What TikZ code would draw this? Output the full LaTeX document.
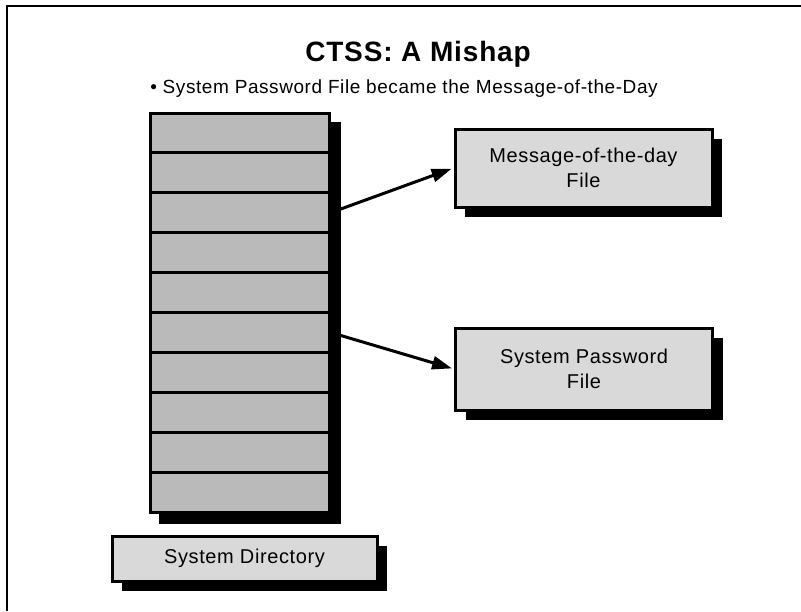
\documentclass[tikz,border=0pt]{standalone}
\usepackage{fontspec}
\setmainfont{Liberation Sans}[LetterSpace=3]
\usetikzlibrary{arrows.meta,calc,shadows,backgrounds,positioning}

\begin{document}
\begin{tikzpicture}[x=1pt,y=-1pt,
        dirrow/.style={draw,line width=3pt,fill=black!27,minimum width=179pt,minimum height=39.9pt,inner sep=0pt},
        filebox/.style={draw,line width=3pt,fill=black!15,align=center,font=\fontsize{20}{25}\selectfont,
            drop shadow={shadow xshift=10pt,shadow yshift=-10pt,fill=black,opacity=1}},
        ptr/.style={line width=3pt,-{Triangle[length=20pt,width=13pt]},shorten >=2pt}]
    \useasboundingbox (0,0) rectangle (801,611);

    % draw slide frame
    \draw[line width=2pt] (7,611) -- (7,6) -- (801,6);

    % place title and bullet
    \node[anchor=base,font=\fontsize{28}{34}\bfseries\selectfont] (title) at (418,61) {CTSS: A Mishap};
    \node[anchor=base,font=\fontsize{19}{23}\selectfont] (bullet) at (404,93)
        {\textbullet{} System Password File became the Message-of-the-Day};

    % draw directory entries
    \foreach \i in {1,...,10}
        \node[dirrow] (row\i) at (239.5,{113+39.9*(\i-0.5)}) {};
    \begin{scope}[on background layer]
        \fill ($(row1.north west)+(10,10)$) rectangle ($(row10.south east)+(10,10)$);
    \end{scope}

    % place files
    \node[filebox,minimum width=257pt,minimum height=78pt] (motd) at (583.5,168) {Message-of-the-day\\File};
    \node[filebox,minimum width=257pt,minimum height=82pt] (pwd) at (584,369) {System Password\\File};
    \node[filebox,minimum width=265pt,minimum height=45pt] (sysdir) at (244.5,558.5) {System Directory};

    % draw pointers
    \draw[ptr] (row3.east) -- (motd.west);
    \draw[ptr] (row6.east) -- (pwd.west);
\end{tikzpicture}
\end{document}
